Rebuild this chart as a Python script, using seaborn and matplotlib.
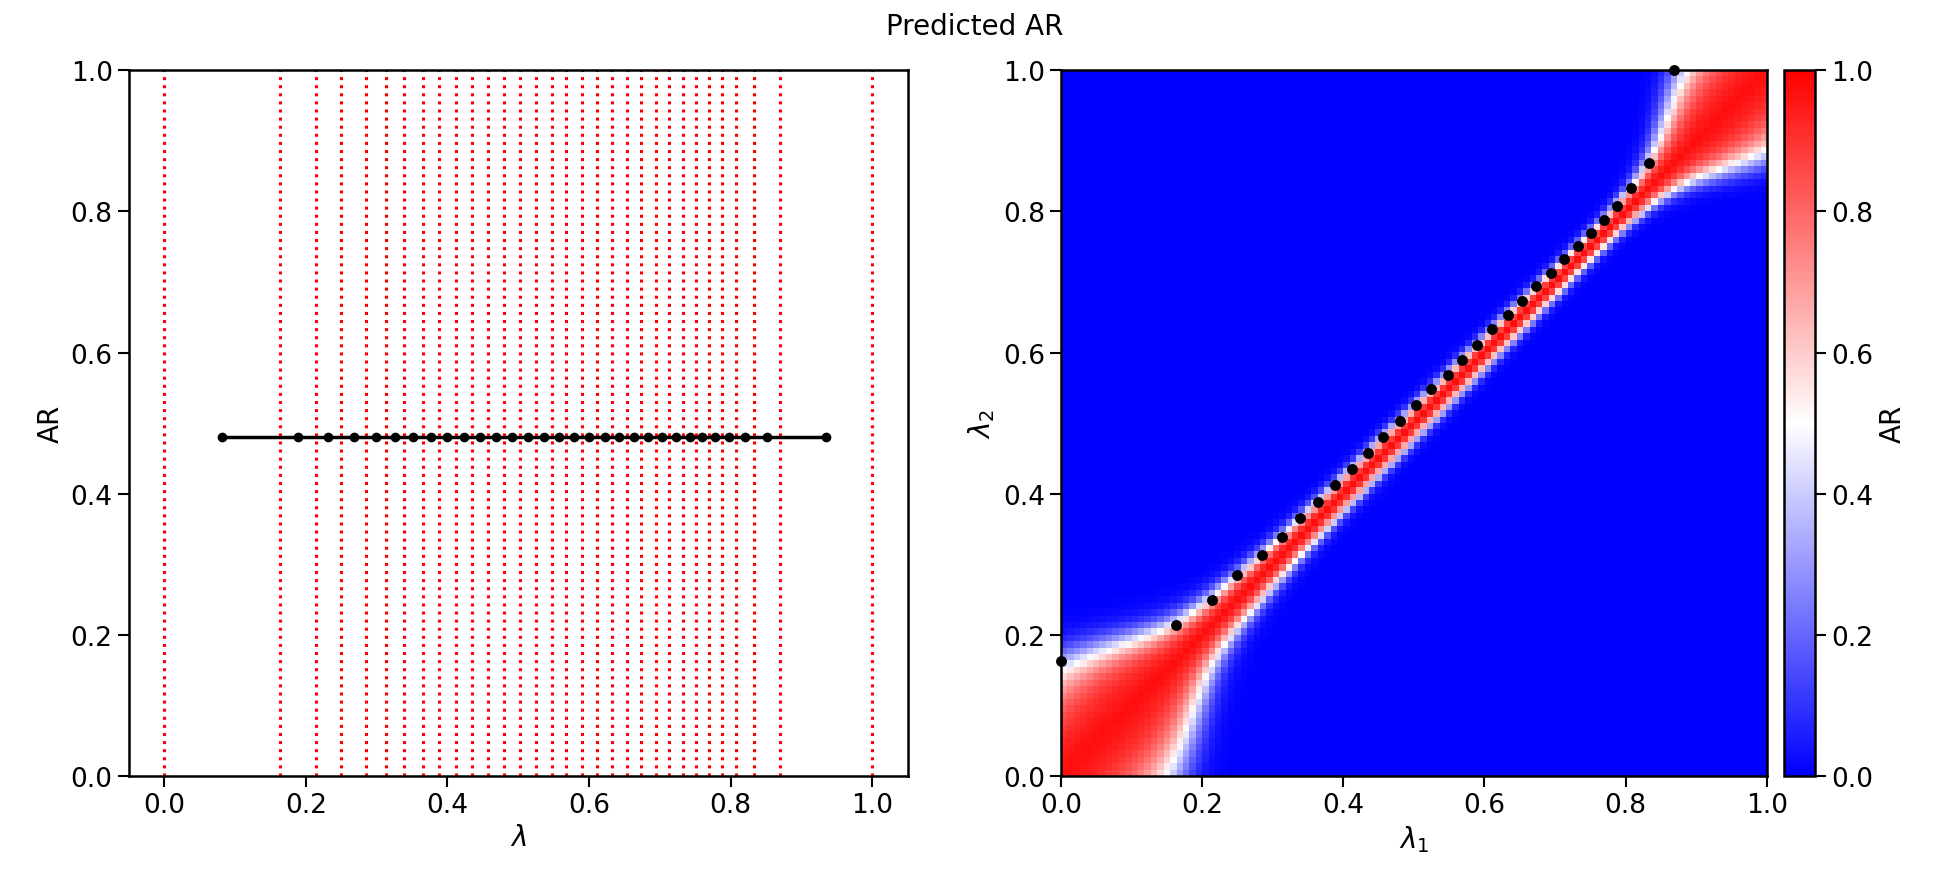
import numpy as np
import matplotlib
matplotlib.use("Agg")
import matplotlib.pyplot as plt
import seaborn as sns

lines = [0.0, 0.163, 0.214, 0.250, 0.285, 0.313, 0.339, 0.365, 0.388, 0.412, 0.435,
         0.457, 0.480, 0.503, 0.525, 0.548, 0.568, 0.590, 0.611, 0.633, 0.653, 0.673,
         0.694, 0.713, 0.733, 0.751, 0.769, 0.788, 0.808, 0.833, 0.869, 1.0]
ar_value = 0.48

sns.set_theme(context="talk", style="ticks")
plt.rcParams['font.family'] = ['DejaVu Sans']
for k in ["text.color", "axes.labelcolor", "xtick.color", "ytick.color", "axes.edgecolor"]:
    plt.rcParams[k] = "black"

lines_arr = np.array(lines)
mids = (lines_arr[:-1] + lines_arr[1:]) / 2

fig = plt.figure(figsize=(19.5, 8.7), dpi=100)
ax1 = fig.add_axes([0.066, 0.107, 0.3995, 0.811])
ax2 = fig.add_axes([0.544, 0.107, 0.362, 0.811])
cax = fig.add_axes([0.915, 0.107, 0.016, 0.811])

for l in lines:
    ax1.axvline(l, color="red", linestyle=":", linewidth=2.2)
sns.lineplot(x=mids, y=np.full(len(mids), ar_value), ax=ax1, color="black",
             marker="o", markersize=7, linewidth=2.5, markeredgewidth=0)
ax1.set_xlim(-0.05, 1.05)
ax1.set_ylim(0, 1)
ax1.set_xlabel(r"$\lambda$", fontsize=20)
ax1.set_ylabel("AR", fontsize=20)

# smooth index map from the grid positions
fine = np.linspace(-0.3, 1.3, 1601)
idx_f = np.interp(fine, lines_arr, np.arange(len(lines_arr)), left=np.nan, right=np.nan)
lo = fine < 0
hi = fine > 1
idx_f[lo] = fine[lo] / (lines_arr[1] - lines_arr[0])
idx_f[hi] = len(lines_arr) - 1 + (fine[hi] - 1) / (lines_arr[-1] - lines_arr[-2])
kx = np.linspace(-0.12, 0.12, 241)
ker = np.exp(-0.5 * (kx / 0.035) ** 2)
ker /= ker.sum()
idx_s = np.convolve(idx_f, ker, mode="same")

n = 110
g = (np.arange(n) + 0.5) / n
idx = np.interp(g, fine, idx_s)
L1, L2 = np.meshgrid(idx, idx)
d = np.abs(L2 - L1)
Z = 1 / (1 + np.exp(-3.5 * (1 - d)))
im = ax2.imshow(Z, origin="lower", extent=[0, 1, 0, 1], cmap="bwr", vmin=0, vmax=1,
                aspect="auto", interpolation="nearest")
ax2.scatter(lines_arr[:-1], lines_arr[1:], color="black", s=40, zorder=3, clip_on=False)
ax2.set_xlim(0, 1)
ax2.set_ylim(0, 1)
ax2.set_xlabel(r"$\lambda_1$", fontsize=20)
ax2.set_ylabel(r"$\lambda_2$", fontsize=20)
cb = fig.colorbar(im, cax=cax)
cb.set_label("AR", fontsize=20)

for a in (ax1, ax2, cax):
    a.tick_params(labelsize=19, length=8, width=1.5)
    for s in a.spines.values():
        s.set_linewidth(1.8)

fig.suptitle("Predicted AR", fontsize=20, y=0.985)
fig.savefig("out.png", dpi=100)
